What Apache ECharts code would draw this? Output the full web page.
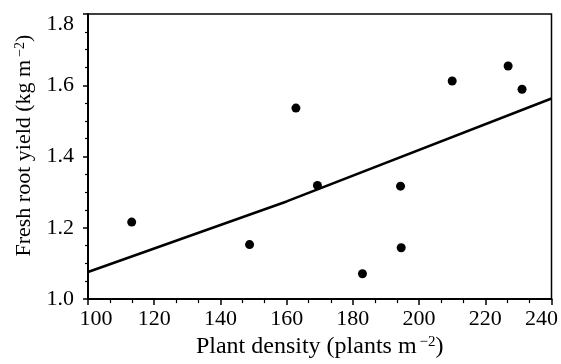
<!DOCTYPE html>
<html>
<head>
<meta charset="utf-8">
<script src="https://cdn.jsdelivr.net/npm/echarts@6/dist/echarts.min.js"></script>
<style>
html,body{margin:0;padding:0;background:#fff;}
#chart{width:561px;height:364px;}
</style>
</head>
<body>
<div id="chart"></div>
<script>
// Observed points: plant density (plants m-2) and fresh root yield (kg m-2)
var density = [113.2, 148.8, 162.8, 169.3, 182.9, 194.4, 194.6, 210.0, 226.9, 231.1];
var rootYield = [1.216, 1.153, 1.536, 1.319, 1.071, 1.317, 1.144, 1.612, 1.654, 1.589];
// Fitted line (read at a few densities)
var fitDensity = [100, 160, 240];
var fitYield = [1.076, 1.274, 1.563];
// Axis ticks
var xTicks = [100, 120, 140, 160, 180, 200, 220, 240];
var yTicks = [1.0, 1.2, 1.4, 1.6, 1.8];
var xTitle = 'Plant density (plants m';
var yTitle = 'Fresh root yield (kg m';

var FONT = 'Liberation Serif';
var scatterData = density.map(function (d, i) { return [d, rootYield[i]]; });
var fitData = fitDensity.map(function (d, i) { return [d, fitYield[i]]; });

var chart = echarts.init(document.getElementById('chart'));
var supStyle = { fontFamily: FONT, fontSize: 15, color: '#000', verticalAlign: 'top', padding: [0, 0, 8, 3] };
chart.setOption({
  animation: false,
  backgroundColor: '#fff',
  grid: { left: 88, right: 8, top: 14, bottom: 57, show: true, borderColor: '#000', borderWidth: 1.5, containLabel: false },
  xAxis: {
    type: 'value',
    min: xTicks[0], max: xTicks[xTicks.length - 1], interval: 20,
    axisLine: { show: true, lineStyle: { color: '#000', width: 2 } },
    axisTick: { show: true, inside: false, length: 6, lineStyle: { color: '#000', width: 1.5 } },
    minorTick: { show: true, splitNumber: 3, length: 4, lineStyle: { color: '#000', width: 1.2 } },
    splitLine: { show: false },
    axisLabel: {
      color: '#000', fontFamily: FONT, fontSize: 22, margin: 9,
      formatter: function (v) {
        if (v === xTicks[0]) return '{l|' + v + '}';
        if (v === xTicks[xTicks.length - 1]) return '{r|' + v + '}';
        return String(v);
      },
      rich: {
        l: { fontFamily: FONT, fontSize: 22, color: '#000', padding: [0, 0, 0, 16] },
        r: { fontFamily: FONT, fontSize: 22, color: '#000', padding: [0, 20, 0, 0] }
      }
    },
    name: '{t|' + xTitle + '}{s|\u22122}{t|)}',
    nameLocation: 'middle', nameGap: 32,
    nameTextStyle: {
      rich: {
        t: { fontFamily: FONT, fontSize: 24, color: '#000' },
        s: supStyle
      }
    }
  },
  yAxis: {
    type: 'value',
    min: yTicks[0], max: yTicks[yTicks.length - 1], interval: 0.2,
    axisLine: { show: true, lineStyle: { color: '#000', width: 2 } },
    axisTick: { show: true, inside: false, length: 5, lineStyle: { color: '#000', width: 1.5 } },
    minorTick: { show: true, splitNumber: 4, length: 3, lineStyle: { color: '#000', width: 1.2 } },
    splitLine: { show: false },
    axisLabel: {
      color: '#000', fontFamily: FONT, fontSize: 22, margin: 14,
      formatter: function (v) {
        var s = v.toFixed(1);
        if (Math.abs(v - yTicks[yTicks.length - 1]) < 1e-9) return '{t|' + s + '}';
        return s;
      },
      rich: { t: { fontFamily: FONT, fontSize: 22, color: '#000', padding: [20, 0, 0, 0] } }
    },
    name: '{t|' + yTitle + '}{s|\u22122}{t|)}',
    nameLocation: 'middle', nameRotate: 90, nameGap: 51,
    nameTextStyle: {
      padding: [0, 0, 0, 22],
      rich: {
        t: { fontFamily: FONT, fontSize: 22, color: '#000' },
        s: { fontFamily: FONT, fontSize: 14, color: '#000', verticalAlign: 'top', padding: [0, 0, 8, 3] }
      }
    }
  },
  series: [
    {
      type: 'line', data: fitData, showSymbol: false, symbol: 'none',
      lineStyle: { color: '#000', width: 2.5 }, z: 2
    },
    {
      type: 'scatter', data: scatterData, symbol: 'circle', symbolSize: 9,
      itemStyle: { color: '#000', opacity: 1 }, z: 3
    }
  ]
});
</script>
</body>
</html>
